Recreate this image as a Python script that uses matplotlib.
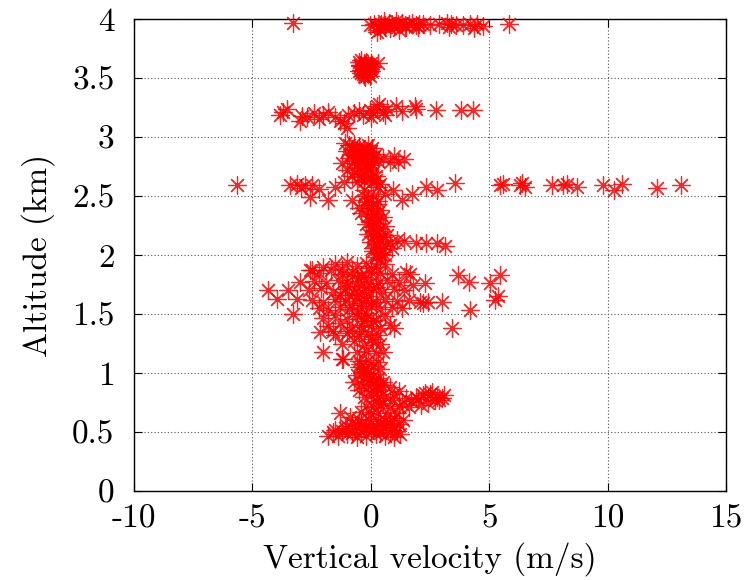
import matplotlib
matplotlib.use("Agg")
import matplotlib.pyplot as plt

plt.rcParams['font.family'] = ['cmr10', 'DejaVu Serif']
plt.rcParams['axes.unicode_minus'] = False

# altitude ~4 km
top_v = [-3.3, -0.05, 0.15, 0.3, 0.45, 0.6, 0.75, 0.9, 1.0, 1.15, 1.3, 1.45, 1.6, 1.75, 1.9, 2.05,
         2.2, 2.5, 2.9, 3.2, 3.4, 3.6, 3.9, 4.2, 4.5, 4.75, 5.85, 0.4, 0.8, 1.2, 0.6, 0.25,
         0.55, 1.05, 1.5, 2.0, 3.3, 4.35]
top_a = [3.97, 3.95, 3.96, 3.94, 3.96, 3.95, 3.97, 3.96, 3.94, 3.96, 3.97, 3.95, 3.96, 3.97, 3.95, 3.96,
         3.96, 3.95, 3.96, 3.97, 3.96, 3.95, 3.95, 3.96, 3.96, 3.94, 3.96, 3.91, 3.92, 3.91, 3.93, 3.89,
         3.98, 3.98, 3.93, 3.93, 3.93, 3.92]

# altitude ~3.6 km
b36_v = [-0.5, -0.4, -0.3, -0.2, -0.1, 0.0, -0.45, -0.35, -0.25, -0.15, -0.05, -0.5, -0.3, -0.1,
         0.05, -0.4, -0.2, 0.0, -0.35, -0.15, -0.3, 0.3, -0.25, -0.1,
         -0.45, -0.2, 0.0, -0.4, -0.1, -0.3, -0.05, -0.35]
b36_a = [3.64, 3.65, 3.63, 3.64, 3.62, 3.63, 3.6, 3.59, 3.61, 3.6, 3.58, 3.56, 3.57, 3.55,
         3.59, 3.54, 3.55, 3.56, 3.53, 3.54, 3.52, 3.63, 3.51, 3.53,
         3.61, 3.62, 3.6, 3.57, 3.6, 3.58, 3.52, 3.56]

# altitude ~3.2 km
b32_v = [-3.83, -3.55, -3.7, -3.0, -2.7, -2.9, -2.4, -2.0, -1.8, -1.3, -1.15, -0.95, -1.5, -0.7,
         -0.33, -0.5, -0.04, 0.25, 0.1, 0.5, 0.35, 0.7, 1.07, 1.3, 1.9, 1.85, 2.76, 3.8, 4.3,
         -2.2, -1.0, 0.0, 0.6]
b32_a = [3.19, 3.24, 3.21, 3.14, 3.17, 3.18, 3.2, 3.19, 3.21, 3.14, 3.12, 3.19, 3.17, 3.2,
         3.19, 3.22, 3.23, 3.26, 3.2, 3.21, 3.28, 3.24, 3.26, 3.22, 3.24, 3.26, 3.23, 3.23, 3.23,
         3.15, 3.08, 3.17, 3.19]

# 2.6 - 3.0 km
b28_v = [-1.1, -0.9, -0.7, -0.5, -0.3, -0.1, 0.05, -1.0, -0.8, -0.6, -0.4, -0.2, 0.0, 0.2,
         -0.9, -0.7, -0.5, -0.3, -0.1, 0.1, -1.2, -0.6, -0.4, -0.2, 0.0, 0.3, 0.5, 0.8, 1.0,
         -1.0, -0.5, -0.3, -0.1, 0.1, -0.8, -0.4, -0.2, 0.0, 0.2, -0.6, -0.3, 0.0, 0.2, 0.4,
         1.15, 1.4, -0.8, -0.45, -0.15, -0.6, -0.25, 0.05, -0.7, -0.35]
b28_a = [2.95, 2.93, 2.94, 2.92, 2.9, 2.93, 2.91, 2.88, 2.86, 2.89, 2.87, 2.85, 2.88, 2.86,
         2.82, 2.8, 2.83, 2.81, 2.84, 2.82, 2.78, 2.77, 2.79, 2.76, 2.78, 2.8, 2.82, 2.79, 2.84,
         2.72, 2.74, 2.71, 2.73, 2.7, 2.67, 2.66, 2.68, 2.65, 2.67, 2.62, 2.63, 2.61, 2.64, 2.6,
         2.79, 2.81, 2.9, 2.89, 2.87, 2.84, 2.75, 2.76, 2.7, 2.69]

# the wide row at ~2.6 km
b26_v = [-5.64, -3.41, -3.13, -2.95, -2.78, -2.5, -2.57, -1.8, -2.2, -1.15, -0.8, 0.94, 1.3, 1.73,
         2.35, 2.78, 3.55, 5.45, 5.6, 6.3, 6.5, 6.4, 7.64, 8.12, 8.3, 8.7, 9.8, 10.25, 10.6,
         12.07, 13.1, -0.3, 0.3, 0.6, -1.5]
b26_a = [2.59, 2.59, 2.6, 2.57, 2.59, 2.59, 2.49, 2.47, 2.56, 2.62, 2.47, 2.55, 2.47, 2.52,
         2.58, 2.55, 2.61, 2.59, 2.6, 2.59, 2.58, 2.61, 2.59, 2.59, 2.6, 2.58, 2.59, 2.55, 2.6,
         2.57, 2.59, 2.55, 2.58, 2.52, 2.58]

# 2.0 - 2.5 km column
b22_v = [-0.3, -0.1, 0.1, 0.3, -0.2, 0.0, 0.2, 0.4, -0.4, -0.1, 0.1, 0.3, 0.5, -0.2, 0.0, 0.2,
         0.4, 0.6, -0.1, 0.1, 0.3, 0.5, 0.7, 0.0, 0.2, 0.4, 0.6, 0.8, 0.1, 0.3, 0.5, 0.9, 1.1,
         1.93, 2.35, 2.78, 3.13, 0.2, 0.4, 0.6, 1.4, -0.5, 0.0, 0.3,
         -0.15, 0.05, 0.25, 0.15, 0.35, 0.1, 0.45]
b22_a = [2.5, 2.48, 2.5, 2.46, 2.42, 2.4, 2.43, 2.38, 2.36, 2.33, 2.35, 2.3, 2.32, 2.26, 2.24, 2.27,
         2.22, 2.25, 2.18, 2.16, 2.19, 2.15, 2.17, 2.11, 2.09, 2.12, 2.08, 2.1, 2.03, 2.02, 2.05, 2.06, 2.13,
         2.1, 2.1, 2.1, 2.08, 1.98, 1.96, 2.0, 2.12, 2.4, 2.29, 2.2,
         2.45, 2.37, 2.31, 2.21, 2.14, 2.06, 2.01]

# 1.0 - 2.0 km, scattered points
b15o_v = [-4.33, -3.97, -3.48, -2.99, -3.13, -2.5, -3.3, -2.15, -1.6, -2.0, -2.0, -1.16, -2.57,
          1.5, 1.66, 1.78, 2.28, 2.2, 2.08, 2.99, 3.7, 4.13, 4.2, 3.42, 5.03, 5.46, 5.39, 5.25, 1.0,
          -1.23, 0.53]
b15o_a = [1.70, 1.63, 1.70, 1.77, 1.63, 1.87, 1.50, 1.35, 1.36, 1.18, 1.90, 1.12, 1.87,
          1.86, 1.84, 1.75, 1.76, 1.59, 1.60, 1.60, 1.83, 1.77, 1.53, 1.38, 1.76, 1.83, 1.65, 1.62, 1.38,
          1.12, 1.18]

# 1.0 - 2.0 km, dense part
b15_v = [-1.5, -1.0, -0.6, -0.2, 0.2, 0.6,
         -2.2, -1.7, -1.2, -0.8, -0.4, 0.0, 0.4, 0.9,
         -2.4, -1.9, -1.4, -1.0, -0.5, -0.1, 0.3, 0.7, 1.2,
         -2.6, -2.1, -1.6, -1.1, -0.7, -0.3, 0.1, 0.5, 1.0, 1.4,
         -2.5, -2.0, -1.5, -1.1, -0.6, -0.2, 0.2, 0.6, 1.1, 1.6, 2.4,
         -2.2, -1.8, -1.3, -0.9, -0.4, 0.0, 0.4, 0.9, 1.3,
         -2.0, -1.5, -1.0, -0.6, -0.2, 0.2, 0.6,
         -1.8, -1.3, -0.8, -0.4, 0.0, 0.4, 0.8,
         -1.5, -1.0, -0.5, -0.1, 0.3,
         -1.2, -0.7, -0.3, 0.1, 0.4,
         -0.6, -0.2, 0.2,
         -0.5, -0.1, 0.3,
         -1.2, -0.8, -0.4, 0.0, -1.0, -0.6, -0.2, 0.2, -1.3, -0.9, -0.5, -0.1,
         -0.8, -0.4, 0.0, -0.6, -0.2, -0.3, 0.1, -0.9, -0.4, 0.05]
b15_a = [1.92, 1.94, 1.91, 1.93, 1.9, 1.92,
         1.85, 1.87, 1.84, 1.86, 1.83, 1.86, 1.85, 1.84,
         1.78, 1.76, 1.79, 1.77, 1.78, 1.8, 1.76, 1.79, 1.77,
         1.7, 1.72, 1.69, 1.71, 1.68, 1.7, 1.72, 1.69, 1.71, 1.7,
         1.62, 1.6, 1.63, 1.61, 1.64, 1.62, 1.6, 1.63, 1.61, 1.62, 1.6,
         1.55, 1.53, 1.56, 1.54, 1.55, 1.57, 1.54, 1.56, 1.55,
         1.47, 1.49, 1.46, 1.48, 1.47, 1.45, 1.48,
         1.4, 1.42, 1.39, 1.41, 1.4, 1.38, 1.41,
         1.32, 1.34, 1.31, 1.33, 1.32,
         1.25, 1.27, 1.24, 1.26, 1.25,
         1.18, 1.19, 1.17,
         1.1, 1.11, 1.09,
         1.88, 1.82, 1.81, 1.89, 1.74, 1.73, 1.74, 1.73, 1.66, 1.66, 1.67, 1.65,
         1.58, 1.59, 1.59, 1.51, 1.51, 1.44, 1.44, 1.36, 1.36, 1.29]

# 0.45 - 1.1 km
b07_v = [-0.5, -0.2, 0.1, 0.4,
         -0.6, -0.3, 0.0, 0.3,
         -0.7, -0.4, -0.1, 0.2, 0.5,
         -0.5, -0.2, 0.1, 0.4, 0.8, 1.2,
         -0.3, 0.0, 0.3, 0.6, 1.0, 1.5, 1.9, 2.2, 2.5, 2.8, 3.1,
         0.2, 0.5, 0.9, 1.3, 1.7, 2.0, 2.4, 2.7, 3.0,
         -0.2, 0.1, 0.4, 0.8, 1.2, 1.6, 2.1,
         -1.3, -0.86, -0.4, 0.0, 0.3, 0.7, 1.1,
         -0.5, -0.1, 0.3, 0.6, 1.0, 1.35,
         -1.0, -0.6, -0.2, 0.2, 0.6, 1.0,
         -1.6, -1.2, -0.8, -0.4, 0.0, 0.4, 0.8, 1.1,
         -1.8, -1.4, -1.0, -0.6, -0.2, 0.2, 0.6, 1.0, 1.23,
         -1.5, -1.1, -0.7, -0.3, 0.1, 0.5, 0.9,
         -0.8, -0.4, 0.0, 0.4, 0.8, 1.2,
         -0.35, -0.05, 0.25, -0.45, -0.15, 0.15, 0.45, 2.6, 2.9, 2.3]
b07_a = [1.05, 1.04, 1.06, 1.03,
         0.98, 0.97, 0.99, 0.96,
         0.92, 0.91, 0.93, 0.9, 0.92,
         0.86, 0.87, 0.85, 0.86, 0.88, 0.85,
         0.8, 0.81, 0.79, 0.8, 0.82, 0.79, 0.8, 0.81, 0.82, 0.8, 0.81,
         0.76, 0.75, 0.77, 0.74, 0.76, 0.78, 0.75, 0.77, 0.79,
         0.72, 0.71, 0.73, 0.7, 0.72, 0.71, 0.73,
         0.66, 0.63, 0.67, 0.65, 0.66, 0.64, 0.66,
         0.6, 0.61, 0.59, 0.6, 0.62, 0.6,
         0.55, 0.56, 0.54, 0.55, 0.56, 0.54,
         0.5, 0.51, 0.49, 0.5, 0.51, 0.49, 0.5, 0.51,
         0.47, 0.47, 0.48, 0.46, 0.47, 0.48, 0.47, 0.46, 0.48,
         0.52, 0.53, 0.52, 0.53, 0.52, 0.53, 0.52,
         0.58, 0.57, 0.58, 0.57, 0.58, 0.57,
         1.01, 0.95, 0.89, 1.08, 1.0, 0.94, 0.9, 0.84, 0.77, 0.83]

vel = top_v + b36_v + b32_v + b28_v + b26_v + b22_v + b15o_v + b15_v + b07_v
alt = top_a + b36_a + b32_a + b28_a + b26_a + b22_a + b15o_a + b15_a + b07_a

xticks = [-10, -5, 0, 5, 10, 15]
yticks = [0, 0.5, 1, 1.5, 2, 2.5, 3, 3.5, 4]

fig = plt.figure(figsize=(7.46, 5.8), dpi=100)
ax = fig.add_axes([0.1796, 0.1534, 0.7936, 0.8138])
ax.plot(vel, alt, linestyle='none', marker=(8, 2, 0), markersize=13,
        markeredgewidth=0.9, color='red', alpha=0.85, clip_on=False, zorder=3)

ax.set_xlim(-10, 15)
ax.set_ylim(0, 4)
ax.set_xticks(xticks)
ax.set_xticklabels([str(t) for t in xticks])
ax.set_yticks(yticks)
ax.set_yticklabels([('%g' % t) for t in yticks])
ax.grid(True, color='#555555', linestyle=(0, (1, 2)), linewidth=0.8)
ax.tick_params(direction='in', top=True, right=True, length=6, labelsize=24)
ax.tick_params(axis='x', pad=10)
ax.tick_params(axis='y', pad=14)
ax.set_xlabel('Vertical velocity (m/s)', fontsize=24, labelpad=6)
ax.set_ylabel('Altitude (km)', fontsize=24, labelpad=12)
for s in ax.spines.values():
    s.set_linewidth(1.0)

fig.savefig('out.png', dpi=100)
